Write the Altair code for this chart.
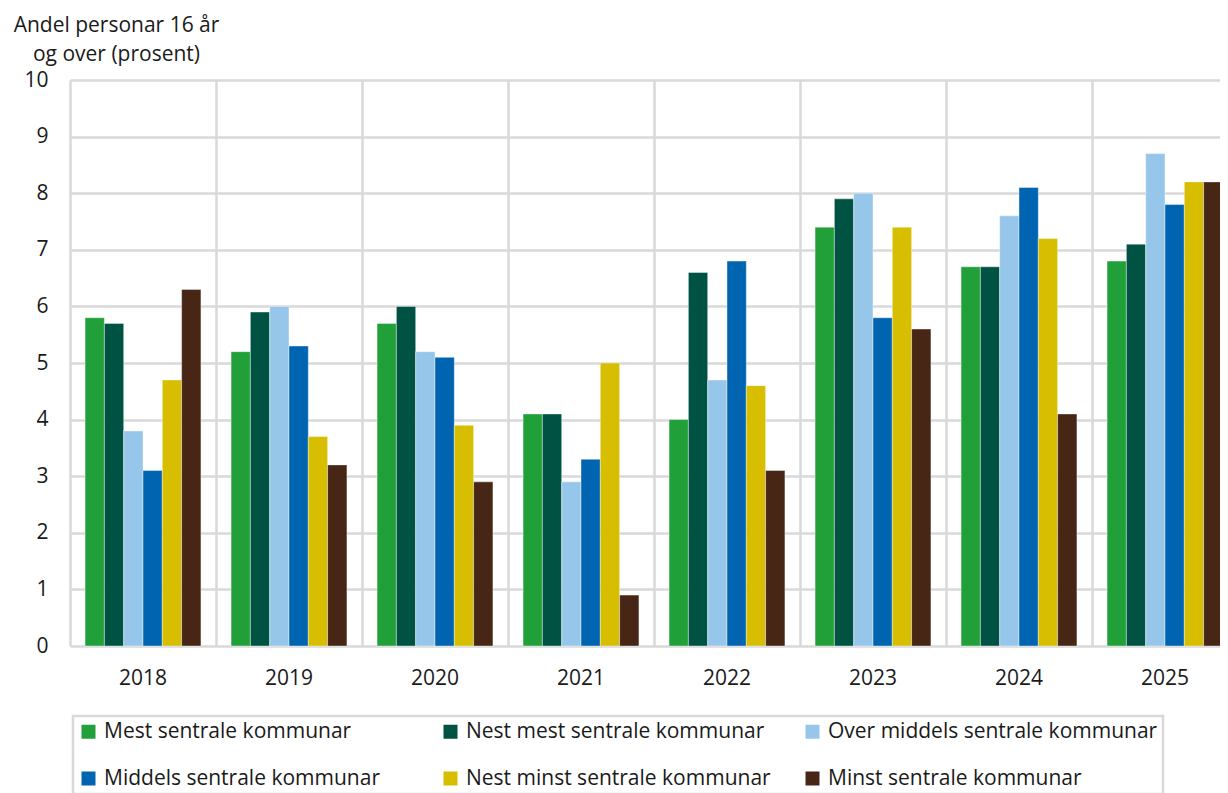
import altair as alt
import pandas as pd

years = ["2018", "2019", "2020", "2021", "2022", "2023", "2024", "2025"]
series = [
    "Mest sentrale kommunar",
    "Nest mest sentrale kommunar",
    "Over middels sentrale kommunar",
    "Middels sentrale kommunar",
    "Nest minst sentrale kommunar",
    "Minst sentrale kommunar",
]
colors = ["#21a03a", "#005342", "#97c6eb", "#0064b0", "#d7be00", "#472615"]

mest = [5.8, 5.2, 5.7, 4.1, 4.0, 7.4, 6.7, 6.8]
nest_mest = [5.7, 5.9, 6.0, 4.1, 6.6, 7.9, 6.7, 7.1]
over_middels = [3.8, 6.0, 5.2, 2.9, 4.7, 8.0, 7.6, 8.7]
middels = [3.1, 5.3, 5.1, 3.3, 6.8, 5.8, 8.1, 7.8]
nest_minst = [4.7, 3.7, 3.9, 5.0, 4.6, 7.4, 7.2, 8.2]
minst = [6.3, 3.2, 2.9, 0.9, 3.1, 5.6, 4.1, 8.2]

values = [mest, nest_mest, over_middels, middels, nest_minst, minst]
rows = []
for s, vals in zip(series, values):
    for y, v in zip(years, vals):
        rows.append({"year": y, "series": s, "value": v})
df = pd.DataFrame(rows)

FONT = "Open Sans"
GRID = "#d9d9d9"
TXT = "#1a1a1a"

chart = (
    alt.Chart(df)
    .mark_bar(stroke="white", strokeWidth=0.8, strokeOpacity=0.5)
    .encode(
        x=alt.X(
            "year:N",
            sort=years,
            scale=alt.Scale(paddingInner=0, paddingOuter=0),
            axis=alt.Axis(
                title=None,
                labelAngle=0,
                labelFontSize=21,
                labelFont=FONT,
                labelColor=TXT,
                labelPadding=21,
                ticks=False,
                domain=False,
                grid=True,
                bandPosition=0,
                gridColor=GRID,
                gridWidth=2.5,
            ),
        ),
        xOffset=alt.XOffset(
            "series:N",
            sort=series,
            scale=alt.Scale(paddingInner=0, paddingOuter=0.78),
        ),
        y=alt.Y(
            "value:Q",
            scale=alt.Scale(domain=[0, 10]),
            axis=alt.Axis(
                title=["Andel personar 16 år", "og over (prosent)"],
                titleAngle=0,
                titleAlign="center",
                titleBaseline="alphabetic",
                titleX=46,
                titleY=-49,
                titleFont=FONT,
                titleFontSize=21,
                titleFontWeight="normal",
                titleColor=TXT,
                titleLineHeight=29,
                values=list(range(0, 11)),
                labelFontSize=21,
                labelFont=FONT,
                labelColor=TXT,
                labelPadding=22,
                ticks=False,
                domain=False,
                grid=True,
                gridColor=GRID,
                gridWidth=2.5,
            ),
        ),
        color=alt.Color(
            "series:N",
            sort=series,
            scale=alt.Scale(domain=series, range=colors),
            legend=alt.Legend(
                title=None,
                orient="none",
                direction="horizontal",
                legendX=3,
                legendY=636,
                columns=3,
                gridAlign="all",
                columnPadding=6,
                rowPadding=25,
                padding=5,
                strokeColor=GRID,
                symbolType="square",
                symbolSize=196,
                symbolStrokeWidth=0,
                labelFontSize=21,
                labelFont=FONT,
                labelColor=TXT,
                labelOffset=5,
                labelLimit=0,
            ),
        ),
    )
    .properties(
        width=1168,
        height=566,
        autosize=alt.AutoSizeParams(type="none"),
        padding={"left": 62, "top": 72, "right": -18, "bottom": 147},
    )
    .configure_view(stroke=None)
    .configure_legend(strokeWidth=2.5)
)

chart.save("out.html", embed_options={"renderer": "svg", "actions": False})
